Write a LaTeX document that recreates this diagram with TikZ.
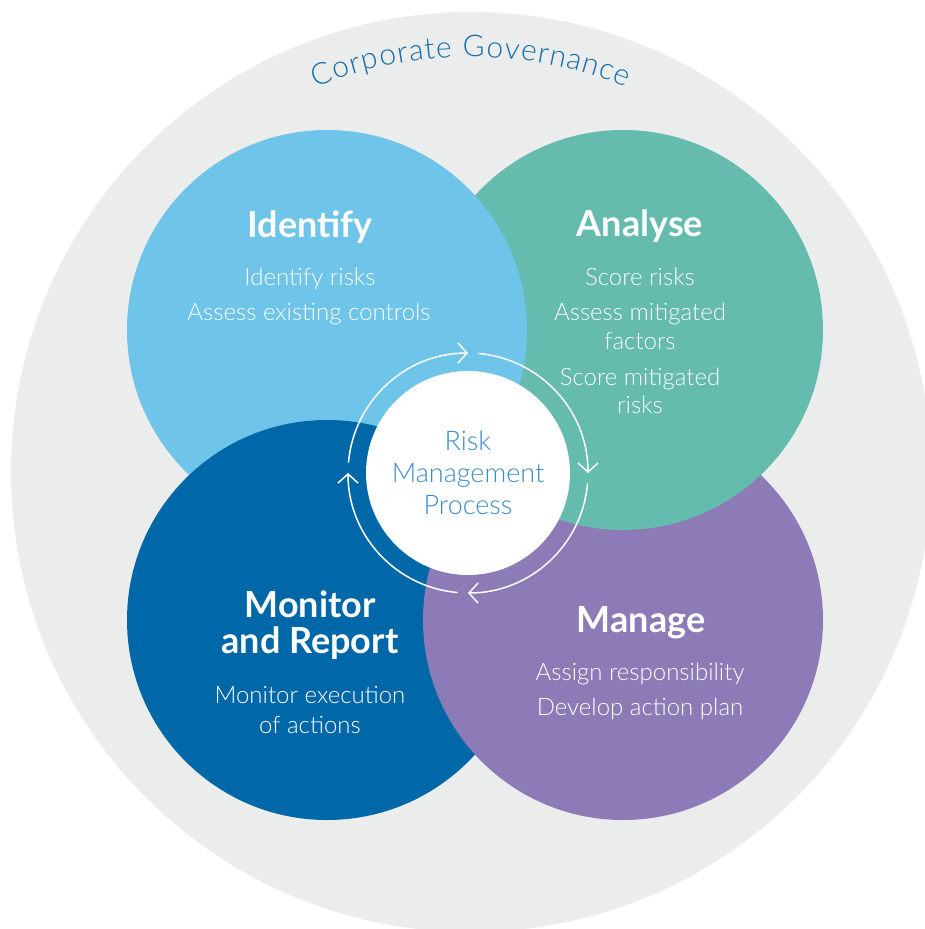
\documentclass[tikz,border=0pt]{standalone}
\usepackage{fontspec}
\setmainfont{Lato}
\newfontfamily\lightfont{Lato Light}
\usetikzlibrary{arrows.meta,decorations.text}

\definecolor{govgrey}{RGB}{235,236,236}
\definecolor{govblue}{RGB}{22,110,170}
\definecolor{idblue}{RGB}{111,196,233}
\definecolor{anteal}{RGB}{100,187,174}
\definecolor{mgpurple}{RGB}{140,123,183}
\definecolor{mondark}{RGB}{0,104,169}
\definecolor{hubtext}{RGB}{58,141,201}

\newcommand{\titlefont}{\fontsize{36}{40}\selectfont\bfseries}
\newcommand{\itemfont}{\lightfont\fontsize{24}{27}\selectfont}

\begin{document}
\begin{tikzpicture}[x=1pt,y=1pt]
\tikzstyle{phase}=[circle, minimum size=400pt, inner sep=0pt]
\tikzstyle{title}=[anchor=base, text=white, font=\titlefont, inner sep=0pt]
\tikzstyle{item}=[anchor=base, text=white, font=\itemfont, inner sep=0pt]
\tikzstyle{cycle}=[white, line width=1.5pt, -{Straight Barb[length=9pt,width=20pt]}]
\useasboundingbox (0,0) rectangle (924,-929);

  % governance backdrop with its curved caption
  \node[circle, fill=govgrey, minimum size=920pt, inner sep=0pt] (gov) at (471,-472) {};
  \path[decorate, decoration={text effects along path, text={Corporate Governance},
        text effects/.cd, text along path, fit text to path,
        every character/.style={font=\lightfont\fontsize{30}{32}\selectfont, text=govblue}}]
    ([shift={(112:415)}]gov.center) arc[start angle=112, end angle=68, radius=415];

  % the four phases (manage first, monitor last)
  \node[phase, fill=mgpurple] (manage) at (623,-620) {};
  \node[phase, fill=anteal] (analyse) at (623,-330) {};
  \node[phase, fill=idblue] (identify) at (327,-330) {};
  \node[phase, fill=mondark] (monitor) at (327,-620) {};
  % manage goes back over monitor where they meet
  \begin{scope}
    \clip (monitor.center) circle (203);
    \fill[mgpurple] (manage.center) circle (200);
  \end{scope}

  % hub and the cycle arrows round it
  \node[circle, fill=white, minimum size=204pt, inner sep=0pt, align=center,
        text=hubtext, font=\lightfont\fontsize{27}{32}\selectfont] (hub) at (468,-473)
        {Risk\\Management\\Process};
  \foreach \a in {175,85,-5,-95}
    \draw[cycle] ([shift={(\a:120)}]hub.center) arc[start angle=\a, delta angle=-85, radius=120];

  \node[title] (idtitle) at (310,-237) {Identify};
  \node[item] (id1) at (310,-285) {Identify risks};
  \node[item] (id2) at (309,-320) {Assess existing controls};

  \node[title] (antitle) at (640,-236) {Analyse};
  \node[item] (an1) at (640,-285) {Score risks};
  \node[item] (an2) at (640,-320) {Assess mitigated};
  \node[item] (an2b) at (640,-349) {factors};
  \node[item] (an3) at (640,-385) {Score mitigated};
  \node[item] (an3b) at (640,-413) {risks};

  \node[title] (montitle) at (310,-617) {Monitor};
  \node[title] (montitleb) at (310,-653) {and Report};
  \node[item] (mon1) at (310,-703) {Monitor execution};
  \node[item] (mon1b) at (310,-733) {of actions};

  \node[title] (mgtitle) at (641,-632) {Manage};
  \node[item] (mg1) at (640,-680) {Assign responsibility};
  \node[item] (mg2) at (640,-715) {Develop action plan};
\end{tikzpicture}
\end{document}
